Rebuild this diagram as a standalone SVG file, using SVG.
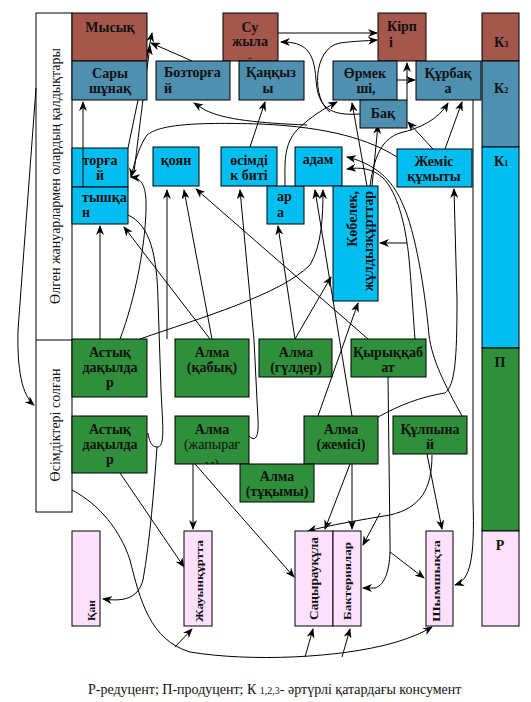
<svg xmlns="http://www.w3.org/2000/svg" width="531" height="702" viewBox="0 0 531 702" font-family="'Liberation Serif', 'DejaVu Serif', serif">
<style>
.b{stroke:#000;stroke-width:1}
.k3{fill:#A5574C}.k2{fill:#4F8FAF}.k1{fill:#00BFF0}.p{fill:#2F8F3A}.r{fill:#FCE0FC}
text{font-family:"Liberation Serif","DejaVu Serif",serif;font-size:14px;font-weight:bold;fill:#111}
.c{text-anchor:middle}
.n{font-weight:normal}
.e path{fill:none;stroke:#000;stroke-width:1;marker-end:url(#a)}
</style>
<defs>
<marker id="a" markerWidth="10" markerHeight="8" refX="9" refY="4" orient="auto" markerUnits="userSpaceOnUse">
<path d="M0,0 L10,4 L0,8 L3,4 z" fill="#000"/>
</marker>
<clipPath id="cj"><rect x="175" y="416" width="74" height="48"/></clipPath>
</defs>
<rect width="531" height="702" fill="#fff"/>

<g id="panel">
<rect x="36" y="13" width="36" height="499" fill="#fff" class="b"/>
<line x1="36" y1="340" x2="72" y2="340" class="b"/>
<text class="n c" transform="translate(60,176) rotate(-90)">Өлген жануарлармен олардың қалдықтары</text>
<text class="n c" transform="translate(60,425) rotate(-90)">Өсімдіктері солған</text>
</g>

<g id="levels">
<rect x="482" y="13" width="37" height="48" class="b k3"/>
<rect x="482" y="61" width="37" height="86" class="b k2"/>
<rect x="482" y="147" width="37" height="201" class="b k1"/>
<rect x="482" y="348" width="37" height="183" class="b p"/>
<rect x="482" y="531" width="37" height="95" class="b r"/>
<text x="494" y="47">К<tspan style="font-size:8px">3</tspan></text>
<text x="494" y="93">К<tspan style="font-size:8px">2</tspan></text>
<text x="494" y="166">К<tspan style="font-size:8px">1</tspan></text>
<text class="c" x="500" y="367">П</text>
<text class="c" x="500" y="550">Р</text>
</g>

<g class="e" id="connectors">
<path d="M278,33 L377,33"/>
<path d="M360,114 C330,116 318,108 316,80 C314,50 305,42 281,42"/>
<path d="M330,112 C312,100 312,48 340,43 C355,41 365,41 377,40"/>
<path d="M192,61 L151,43"/>
<path d="M128,148 L152,33"/>
<path d="M134,172 C138,140 144,90 150,46"/>
<path d="M83,187 L83,102"/>
<path d="M100,339 L100,226"/>
<path d="M210,339 L124,227"/>
<path d="M167,339 L167,190"/>
<path d="M212,339 L184,190"/>
<path d="M368,339 L196,189"/>
<path d="M249,436 C255,442 259,438 258,420 L254,340 L240,190"/>
<path d="M250,147 L265,102"/>
<path d="M295,339 L278,226"/>
<path d="M295,339 L331,277"/>
<path d="M352,416 L315,190"/>
<path d="M140,339 C200,318 280,295 310,265 C322,245 323,215 323,190"/>
<path d="M318,416 L358,303"/>
<path d="M285,186 C285,165 283,145 297,130 C310,117 325,108 337,102"/>
<path d="M367,186 L352,103"/>
<path d="M372,186 L378,125"/>
<path d="M370,186 C375,150 385,138 400,133 C420,128 438,120 448,103"/>
<path d="M445,149 L462,102"/>
<path d="M433,149 L408,122"/>
<path d="M407,100 L407,63"/>
<path d="M397,80 L415,80"/>
<path d="M473,100 L473,500 C475,560 470,580 455,585"/>
<path d="M378,417 C400,405 420,397 445,393 C455,385 457,360 457,300 L454,189"/>
<path d="M407,243 L380,243"/>
<path d="M462,416 C445,385 432,360 429,335 C425,290 415,230 403,205 C395,185 380,165 347,157"/>
<path d="M415,339 C412,300 410,260 407,243 C403,215 395,190 383,178 C372,168 360,167 347,169"/>
<path d="M397,157 C370,140 330,127 260,124 C190,122 160,125 147,135 C140,145 135,160 131,177"/>
<path d="M307,125 C260,123 225,120 205,110 L194,103"/>
<path d="M120,339 C135,300 147,240 146,200 C145,183 140,178 131,177"/>
<path d="M128,215 C150,225 157,255 158,300 L161,390 C163,430 165,447 157,447 C151,447 149,440 148,433" style="marker-end:none"/>
<path d="M157,447 C154,490 150,540 143,580 C138,598 125,602 103,599"/>
<path d="M120,473 L184,567"/>
<path d="M193,464 L193,529"/>
<path d="M195,464 L294,577"/>
<path d="M350,464 L325,529"/>
<path d="M352,464 L352,529"/>
<path d="M427,454 L442,529"/>
<path d="M432,455 C432,490 420,508 390,515 C360,520 330,525 308,531"/>
<path d="M388,377 L390,540 C391,570 385,585 375,588 L363,588"/>
<path d="M390,552 L424,578"/>
<path d="M380,513 L363,545"/>
<path d="M72,490 C100,505 120,530 130,560 C140,600 150,640 190,652 C250,662 340,658 393,643 C410,638 422,633 432,627"/>
<path d="M175,647 L192,629"/>
<path d="M305,657 L313,629"/>
<path d="M342,657 L350,629"/>
<path d="M36,88 L18,330 C17,370 22,395 34,405"/>
</g>

<g id="mysyk"><rect x="72" y="13" width="75" height="48" class="b k3"/><text class="c" x="110" y="32">Мысық</text></g>
<g id="suzhylan"><rect x="223" y="13" width="55" height="48" class="b k3"/><text class="c" x="250" y="32">Су</text><text class="c" x="250" y="46">жыла</text><text class="c" x="250" y="59" style="font-size:8px">..</text></g>
<g id="kirpi"><rect x="378" y="13" width="48" height="48" class="b k3"/><text class="c" x="402" y="31">Кірп</text><text x="389" y="47">і</text></g>

<g id="saryshunak"><rect x="72" y="61" width="75" height="39" class="b k2"/><text class="c" x="110" y="78">Сары</text><text class="c" x="110" y="93">шұнақ</text></g>
<g id="boztorgai"><rect x="156" y="61" width="74" height="39" class="b k2"/><text x="164" y="77">Бозторға</text><text x="164" y="93">й</text></g>
<g id="kankyzy"><rect x="239" y="61" width="65" height="39" class="b k2"/><text class="c" x="271" y="77">Қаңқыз</text><text class="c" x="268" y="93">ы</text></g>
<g id="ormekshi"><rect x="333" y="61" width="64" height="39" class="b k2"/><text class="c" x="365" y="78">Өрмек</text><text class="c" x="366" y="93">ші,</text></g>
<g id="kurbaka"><rect x="416" y="61" width="65" height="39" class="b k2"/><text class="c" x="448" y="78">Құрбақ</text><text class="c" x="448" y="93">а</text></g>
<g id="bak"><rect x="360" y="100" width="47" height="28" class="b k2"/><text class="c" x="383" y="118">Бақ</text></g>

<g id="torgai"><rect x="72" y="148" width="56" height="39" class="b k1"/><text class="c" x="100" y="165">торға</text><text class="c" x="100" y="180">й</text></g>
<g id="tyshkan"><rect x="72" y="187" width="56" height="37" class="b k1"/><text x="82" y="202">тышқа</text><text x="82" y="217">н</text></g>
<line x1="83" y1="148" x2="83" y2="187" stroke="#000"/>
<g id="koyan"><rect x="153" y="147" width="46" height="39" class="b k1"/><text class="c" x="176" y="165">қоян</text></g>
<g id="osimdikbiti"><rect x="221" y="147" width="56" height="39" class="b k1"/><text class="c" x="249" y="165">өсімді</text><text class="c" x="249" y="180">к биті</text></g>
<g id="ara"><rect x="267" y="186" width="37" height="38" class="b k1"/><text x="277" y="201">ар</text><text x="277" y="217">а</text></g>
<g id="adam"><rect x="295" y="147" width="47" height="39" class="b k1"/><text class="c" x="318" y="164">адам</text></g>
<g id="kobelek"><rect x="333" y="186" width="45" height="115" class="b k1"/><text text-anchor="end" transform="translate(357,191) rotate(-90)">Көбелек,</text><text text-anchor="end" transform="translate(373,191) rotate(-90)">жұлдызқұрттар</text></g>
<g id="zhemiskumyty"><rect x="397" y="149" width="75" height="38" class="b k1"/><text class="c" x="434" y="166">Жеміс</text><text class="c" x="434" y="181">құмыты</text></g>

<g id="astyk1"><rect x="72" y="339" width="75" height="58" class="b p"/><text class="c" x="110" y="357">Астық</text><text class="c" x="110" y="372">дақылда</text><text class="c" x="110" y="387">р</text></g>
<g id="almakabyk"><rect x="175" y="339" width="74" height="58" class="b p"/><text class="c" x="212" y="357">Алма</text><text class="c" x="212" y="372">(қабық)</text></g>
<g id="almaguldar"><rect x="259" y="339" width="73" height="38" class="b p"/><text class="c" x="296" y="357">Алма</text><text class="c" x="296" y="372">(гүлдер)</text></g>
<g id="kyrykkabat"><rect x="351" y="339" width="75" height="38" class="b p"/><text class="c" x="388" y="357">Қырыққаб</text><text class="c" x="388" y="372">ат</text></g>
<g id="astyk2"><rect x="72" y="416" width="75" height="57" class="b p"/><text class="c" x="110" y="434">Астық</text><text class="c" x="110" y="449">дақылда</text><text class="c" x="110" y="464">р</text></g>
<g id="almazhapyrak"><rect x="175" y="416" width="74" height="48" class="b p"/><text class="c" x="212" y="434">Алма</text><g clip-path="url(#cj)"><text class="c n" x="212" y="449">(жапырағ</text><text class="c n" x="212" y="469">ы)</text></g></g>
<g id="almazhemisi"><rect x="304" y="416" width="74" height="48" class="b p"/><text class="c" x="341" y="434">Алма</text><text class="c" x="341" y="449">(жемісі)</text></g>
<g id="almatukymy"><rect x="240" y="464" width="74" height="38" class="b p"/><text class="c" x="277" y="481">Алма</text><text class="c" x="277" y="496">(тұқымы)</text></g>
<g id="kulpynai"><rect x="393" y="416" width="74" height="38" class="b p"/><text class="c" x="430" y="434">Құлпына</text><text class="c" x="430" y="449">й</text></g>

<g id="kan"><rect x="72" y="531" width="28" height="95" class="b r"/><text style="font-size:11px" transform="translate(95,621) rotate(-90)" textLength="21" lengthAdjust="spacingAndGlyphs">Қан</text></g>
<g id="zhauyn"><rect x="184" y="531" width="28" height="95" class="b r"/><text style="font-size:11px" transform="translate(203,622) rotate(-90)" textLength="82" lengthAdjust="spacingAndGlyphs">Жауынқұртта</text></g>
<g id="sanyrau"><rect x="295" y="531" width="38" height="95" class="b r"/><text style="font-size:13px" transform="translate(318,620) rotate(-90)" textLength="83" lengthAdjust="spacingAndGlyphs">Саңырауқұла</text></g>
<g id="bakteria"><rect x="333" y="531" width="28" height="95" class="b r"/><text style="font-size:11px" transform="translate(351,620) rotate(-90)" textLength="78" lengthAdjust="spacingAndGlyphs">Бактериялар</text></g>
<g id="shym"><rect x="426" y="531" width="27" height="95" class="b r"/><text style="font-size:11px" transform="translate(440,622) rotate(-90)" textLength="82" lengthAdjust="spacingAndGlyphs">Шымшықта</text></g>

<text class="n" x="88" y="694" style="font-size:14px">Р-редуцент; П-продуцент; К <tspan style="font-size:10px">1,2,3</tspan>- әртүрлі қатардағы консумент</text>
</svg>
